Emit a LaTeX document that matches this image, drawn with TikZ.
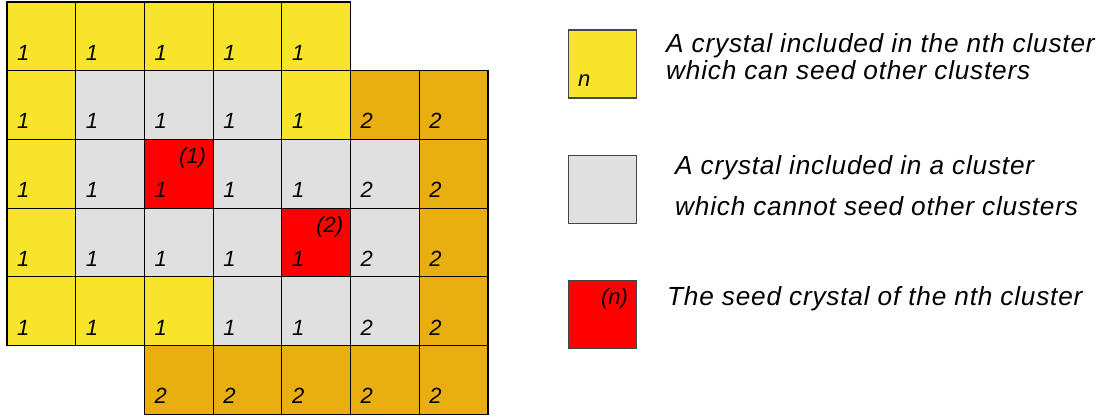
\documentclass[tikz,border=0pt]{standalone}
\usepackage{fontspec}
\setmainfont{Liberation Sans}
\newfontfamily\keyfont[LetterSpace=3]{Liberation Sans}

\definecolor{seedyellow}{RGB}{248,228,42}
\definecolor{clustergray}{RGB}{224,224,224}
\definecolor{clusterorange}{RGB}{233,174,16}
\definecolor{seedred}{RGB}{255,0,0}
\definecolor{keyframe}{RGB}{70,70,70}

\tikzset{
  crystal/.style={draw=black, line width=1.2pt, minimum size=68.7pt,
    anchor=north west, inner sep=0pt, outer sep=0pt},
  ycell/.style={crystal, fill=seedyellow},
  gcell/.style={crystal, fill=clustergray},
  ocell/.style={crystal, fill=clusterorange},
  rcell/.style={crystal, fill=seedred},
  num/.style={anchor=base west, inner sep=0pt, xshift=10pt, yshift=10.5pt,
    font=\itshape\fontsize{22}{26}\selectfont},
  seednum/.style={anchor=north east, inner sep=0pt, xshift=-7pt, yshift=-8pt,
    font=\itshape\fontsize{22}{26}\selectfont},
  keybox/.style={draw=keyframe, line width=1.2pt, minimum size=68pt,
    anchor=north west, inner sep=0pt},
  keytext/.style={anchor=base west, inner sep=0pt,
    font=\keyfont\itshape\fontsize{26.2}{31}\selectfont}
}

\begin{document}
\begin{tikzpicture}[x=1pt,y=-1pt]
    \useasboundingbox (0,0) rectangle (1100,417);
    % row 0
    \node[ycell, label={[num]south west:1}] (c00) at (7,2) {};
    \node[ycell, label={[num]south west:1}] (c01) at (75.7,2) {};
    \node[ycell, label={[num]south west:1}] (c02) at (144.4,2) {};
    \node[ycell, label={[num]south west:1}] (c03) at (213.1,2) {};
    \node[ycell, label={[num]south west:1}] (c04) at (281.8,2) {};
    % row 1
    \node[ycell, label={[num]south west:1}] (c10) at (7,70.7) {};
    \node[gcell, label={[num]south west:1}] (c11) at (75.7,70.7) {};
    \node[gcell, label={[num]south west:1}] (c12) at (144.4,70.7) {};
    \node[gcell, label={[num]south west:1}] (c13) at (213.1,70.7) {};
    \node[ycell, label={[num]south west:1}] (c14) at (281.8,70.7) {};
    \node[ocell, label={[num]south west:2}] (c15) at (350.5,70.7) {};
    \node[ocell, label={[num]south west:2}] (c16) at (419.2,70.7) {};
    % row 2
    \node[ycell, label={[num]south west:1}] (c20) at (7,139.4) {};
    \node[gcell, label={[num]south west:1}] (c21) at (75.7,139.4) {};
    \node[rcell, label={[num]south west:1}, label={[seednum]north east:(1)}] (c22) at (144.4,139.4) {};
    \node[gcell, label={[num]south west:1}] (c23) at (213.1,139.4) {};
    \node[gcell, label={[num]south west:1}] (c24) at (281.8,139.4) {};
    \node[gcell, label={[num]south west:2}] (c25) at (350.5,139.4) {};
    \node[ocell, label={[num]south west:2}] (c26) at (419.2,139.4) {};
    % row 3
    \node[ycell, label={[num]south west:1}] (c30) at (7,208.1) {};
    \node[gcell, label={[num]south west:1}] (c31) at (75.7,208.1) {};
    \node[gcell, label={[num]south west:1}] (c32) at (144.4,208.1) {};
    \node[gcell, label={[num]south west:1}] (c33) at (213.1,208.1) {};
    \node[rcell, label={[num]south west:1}, label={[seednum]north east:(2)}] (c34) at (281.8,208.1) {};
    \node[gcell, label={[num]south west:2}] (c35) at (350.5,208.1) {};
    \node[ocell, label={[num]south west:2}] (c36) at (419.2,208.1) {};
    % row 4
    \node[ycell, label={[num]south west:1}] (c40) at (7,276.8) {};
    \node[ycell, label={[num]south west:1}] (c41) at (75.7,276.8) {};
    \node[ycell, label={[num]south west:1}] (c42) at (144.4,276.8) {};
    \node[gcell, label={[num]south west:1}] (c43) at (213.1,276.8) {};
    \node[gcell, label={[num]south west:1}] (c44) at (281.8,276.8) {};
    \node[gcell, label={[num]south west:2}] (c45) at (350.5,276.8) {};
    \node[ocell, label={[num]south west:2}] (c46) at (419.2,276.8) {};
    % row 5
    \node[ocell, label={[num]south west:2}] (c52) at (144.4,345.5) {};
    \node[ocell, label={[num]south west:2}] (c53) at (213.1,345.5) {};
    \node[ocell, label={[num]south west:2}] (c54) at (281.8,345.5) {};
    \node[ocell, label={[num]south west:2}] (c55) at (350.5,345.5) {};
    \node[ocell, label={[num]south west:2}] (c56) at (419.2,345.5) {};

    % key
    \node[keybox, fill=seedyellow, label={[num, xshift=0pt, yshift=2pt]south west:n}] (keyseed) at (568,29.5) {};
    \node[keytext] (keyseedA) at (666,53) {A crystal included in the nth cluster};
    \node[keytext] (keyseedB) at (666,79.5) {which can seed other clusters};
    \node[keybox, fill=clustergray] (keyplain) at (568,154.5) {};
    \node[keytext] (keyplainA) at (675,175) {A crystal included in a cluster};
    \node[keytext] (keyplainB) at (675,215) {which cannot seed other clusters};
    \node[keybox, fill=seedred, label={[seednum, xshift=-2pt, yshift=-1pt]north east:(n)}] (keyred) at (568,279.5) {};
    \node[keytext] (keyredA) at (667,305) {The seed crystal of the nth cluster};
\end{tikzpicture}
\end{document}
